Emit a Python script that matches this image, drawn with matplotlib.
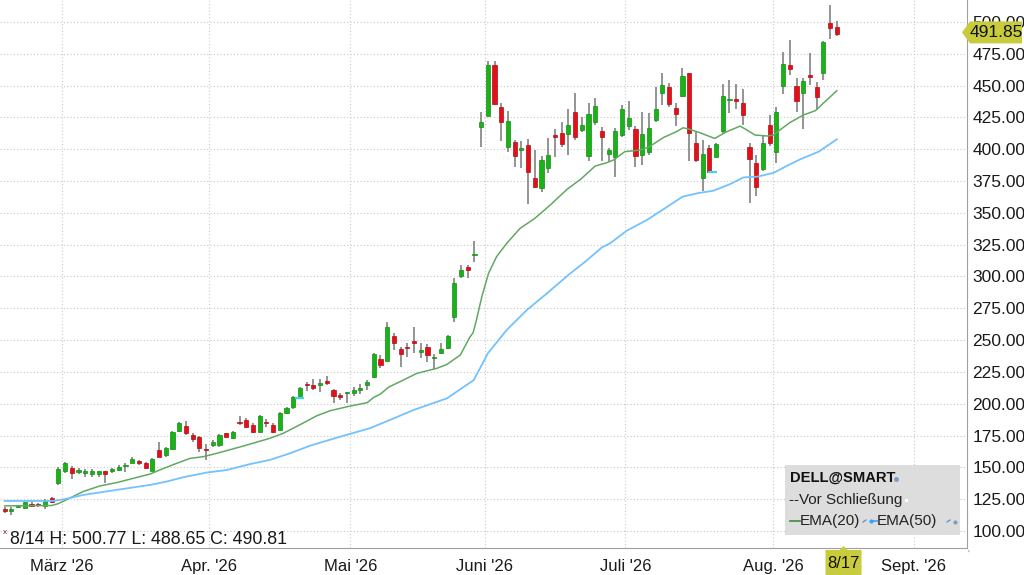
import matplotlib
matplotlib.use("Agg")

import matplotlib.pyplot as plt
from matplotlib.patches import Rectangle, Polygon
from matplotlib.lines import Line2D

# --- candle data (trading-day index 0..124, last = 8/14) ---
opens = [117.1, 115.8, 118.6, 118.4, 121.5, 121.0, 119.7, 125.7, 138.0, 147.2,
         149.8, 146.4, 145.9, 144.8, 144.8, 146.9, 146.9, 148.0, 151.4, 153.7,
         155.0, 153.2, 147.5, 163.7, 159.8, 164.2, 178.6, 182.8, 175.5, 173.7,
         164.7, 167.6, 167.6, 176.8, 172.9, 186.0, 187.3, 183.3, 178.1, 186.0,
         183.4, 179.4, 193.0, 197.2, 206.1, 215.5, 214.7, 214.7, 217.9, 210.5,
         206.5, 208.4, 208.4, 210.5, 214.7, 221.2, 235.1, 233.8, 253.4, 243.0,
         244.8, 249.2, 240.9, 244.8, 235.6, 240.1, 243.5, 267.9, 300.3, 307.2,
         317.0, 417.7, 426.1, 466.2, 433.5, 402.0, 406.0, 399.4, 403.3, 377.7,
         369.3, 385.0, 411.2, 412.5, 412.0, 429.5, 415.1, 394.9, 421.7, 414.6,
         396.0, 393.6, 411.2, 418.3, 416.0, 395.4, 398.1, 422.9, 443.9, 449.1,
         432.1, 441.8, 459.6, 404.6, 377.1, 400.7, 394.1, 414.3, 438.7, 439.2,
         436.0, 401.5, 388.9, 384.6, 418.7, 398.1, 449.7, 466.2, 450.0, 443.9,
         458.4, 448.7, 459.7, 499.5, 495.8]
highs = [118.6, 118.6, 120.5, 123.1, 124.4, 122.3, 125.2, 126.5, 150.6, 154.5,
         151.1, 149.3, 149.0, 148.5, 147.5, 147.5, 149.3, 151.9, 153.2, 157.9,
         155.8, 154.3, 157.4, 170.3, 166.3, 178.6, 185.4, 186.8, 176.8, 174.7,
         168.2, 171.6, 176.3, 177.3, 178.9, 190.4, 188.6, 184.7, 191.2, 187.8,
         184.7, 193.8, 197.8, 206.0, 213.4, 217.3, 219.2, 219.2, 221.8, 211.3,
         208.1, 209.5, 213.4, 215.5, 218.6, 239.6, 238.3, 264.4, 255.3, 244.8,
         247.9, 260.5, 247.4, 246.9, 239.0, 247.4, 254.0, 298.5, 309.0, 309.0,
         327.9, 429.5, 469.4, 469.4, 436.1, 430.1, 407.3, 406.7, 407.8, 399.4,
         394.7, 408.6, 415.9, 421.7, 431.4, 443.9, 425.6, 436.1, 440.0, 417.2,
         401.2, 416.4, 434.8, 438.2, 418.0, 429.5, 428.2, 449.1, 460.1, 451.8,
         436.6, 463.6, 460.1, 413.8, 407.2, 403.3, 405.1, 451.2, 454.4, 451.2,
         447.0, 404.6, 395.4, 411.0, 427.0, 433.1, 476.7, 485.9, 455.7, 455.7,
         475.4, 453.1, 485.3, 513.4, 500.77]
lows = [114.4, 112.6, 118.0, 117.9, 118.6, 119.2, 117.1, 122.3, 136.2, 145.9,
        140.6, 144.8, 142.2, 142.7, 142.2, 138.0, 145.9, 146.9, 146.7, 153.2,
        151.9, 149.0, 146.9, 157.9, 158.5, 163.7, 178.1, 175.5, 170.3, 162.4,
        155.8, 165.8, 166.3, 173.7, 172.1, 183.4, 180.7, 177.3, 177.6, 182.0,
        176.8, 178.6, 192.0, 196.0, 205.0, 210.3, 210.8, 209.5, 214.7, 200.8,
        202.9, 200.8, 206.3, 207.6, 210.7, 219.9, 227.8, 233.8, 242.2, 228.6,
        236.4, 240.1, 235.6, 233.0, 227.0, 239.0, 242.7, 264.4, 298.5, 298.5,
        311.1, 401.5, 426.1, 434.8, 406.7, 398.1, 385.8, 385.0, 357.0, 369.3,
        366.6, 381.6, 393.6, 401.5, 395.5, 407.3, 413.3, 390.8, 419.0, 390.8,
        390.2, 378.4, 409.4, 415.1, 385.8, 387.6, 395.4, 421.6, 434.7, 433.4,
        418.2, 441.3, 391.0, 390.2, 367.4, 381.0, 393.6, 413.0, 428.2, 431.3,
        419.0, 358.0, 363.2, 382.8, 402.6, 389.4, 443.6, 458.4, 429.5, 415.6,
        450.5, 430.8, 454.4, 486.4, 488.65]
closes = [115.8, 117.6, 119.7, 122.6, 119.7, 120.2, 123.9, 123.1, 148.5, 153.7,
          145.9, 148.0, 146.9, 146.9, 146.9, 144.8, 148.5, 150.6, 152.0, 156.9,
          153.2, 149.3, 156.9, 158.5, 165.0, 177.6, 184.7, 176.8, 172.1, 165.0,
          163.7, 170.3, 175.5, 174.2, 178.1, 185.2, 182.0, 178.0, 190.4, 184.9,
          177.6, 193.0, 196.4, 205.0, 212.1, 214.5, 212.4, 216.5, 216.5, 206.1,
          205.5, 209.3, 210.5, 212.6, 217.0, 239.0, 230.4, 260.5, 247.4, 239.0,
          243.5, 247.9, 242.2, 238.3, 235.9, 243.0, 253.2, 295.1, 305.1, 305.1,
          317.6, 421.1, 466.2, 435.3, 421.7, 422.5, 394.7, 401.2, 382.4, 370.1,
          391.5, 395.5, 409.4, 404.1, 419.0, 409.9, 419.0, 427.4, 434.0, 409.9,
          399.4, 414.6, 431.4, 424.8, 394.7, 411.9, 416.9, 431.3, 450.4, 435.5,
          427.4, 457.5, 413.0, 391.5, 396.2, 382.3, 404.1, 441.8, 439.7, 437.6,
          426.9, 392.0, 370.0, 404.8, 405.2, 429.2, 467.2, 462.8, 438.2, 453.6,
          457.0, 441.3, 484.6, 495.0, 490.81]

# EMA lines at (index, value)
ema20_x = [0, 7, 8, 9, 11.7, 14.2, 16.7, 19.2, 21.7, 23.1, 25.3, 27.6, 29.6,
           31.6, 35.6, 39.5, 41.5, 44, 46.5, 48.5, 51.5, 54, 55, 56, 57.2, 58.9,
           61.4, 63.4, 64.4, 65.9, 67.9, 69.3, 69.8, 70.3, 71.1, 72.1, 73.3,
           74.8, 76.8, 79.0, 81.3, 83.8, 85.8, 88.0, 89.7, 90.7, 92.4, 94.7,
           95.9, 98.2, 100.1, 101.1, 102.1, 103.6, 105.8, 107.6, 109.6, 110.6,
           111.8, 113.6, 114.6, 115.5, 117.0, 119.0, 120.8, 122.5, 124]
ema20_y = [119.7, 120.0, 121.5, 124.0, 131.0, 135.4, 138.0, 141.4, 144.8, 147.9,
           152.5, 157.0, 158.4, 161.0, 166.8, 172.8, 176.7, 183.5, 190.5, 194.5,
           198.2, 200.8, 205.0, 207.6, 213.0, 217.3, 223.8, 226.5, 227.8, 230.9,
           238.3, 252.2, 255.8, 265.8, 284.1, 302.5, 315.6, 326.0, 337.8, 345.7,
           356.2, 368.5, 376.3, 386.8, 389.4, 391.5, 398.1, 399.4, 401.5, 409.3,
           413.8, 416.9, 415.6, 413.0, 408.5, 413.8, 418.2, 415.1, 411.2, 410.4,
           411.2, 415.1, 420.9, 426.9, 430.3, 438.7, 446.0]
ema50_x = [0, 7, 8.5, 11.7, 16.7, 21.7, 24.1, 26.6, 30.1, 33.1, 36.6, 39.5,
           42.5, 45.5, 50.0, 54.4, 57.4, 60.9, 65.9, 69.9, 72.0, 74.8, 77.8,
           80.8, 84.0, 86.5, 89.0, 90.2, 92.7, 95.7, 98.5, 101.0, 103.3, 105.6,
           108.1, 110.1, 112.1, 114.6, 116.5, 118.5, 121.3, 124]
ema50_y = [123.6, 123.6, 124.5, 128.3, 132.3, 136.2, 138.8, 142.2, 145.9, 147.9,
           152.6, 155.8, 161.0, 167.0, 174.1, 180.7, 187.2, 195.0, 204.2, 218.6,
           239.6, 257.9, 273.6, 286.7, 301.2, 311.6, 322.9, 326.0, 336.0, 344.4,
           354.0, 362.7, 365.5, 367.4, 372.6, 377.9, 378.4, 381.5, 386.8, 392.0,
           398.1, 407.8]

# small cyan marks on the chart
mark_x0 = [43.3, 104.8]
mark_x1 = [44.6, 106.2]
mark_y = [204.3, 381.9]

month_first = [9, 31, 52, 72, 93, 115, 136]
month_labels = ["März '26", "Apr. '26", "Mai '26", "Juni '26", "Juli '26",
                "Aug. '26", "Sept. '26"]
y_ticks = list(range(100, 501, 25))

last_price = 491.85
last_date_idx = 125
last_date_label = "8/17"
info_text = "8/14 H: 500.77 L: 488.65 C: 490.81"

W, H = 1024, 575
FONT = "Liberation Sans"
UP = "#19b219"
UP_EDGE = "#0f8f0f"
DOWN = "#e3101a"
DOWN_EDGE = "#b30a10"
TAG = "#c8cb3c"


def px(x, y):
    return x / W, 1 - y / H


fig = plt.figure(figsize=(W / 100, H / 100), dpi=100)
ax = fig.add_axes([0, 27 / H, 967 / W, 548 / H])
ax.set_xlim(-0.7, 143.4)
ax.set_ylim(86.6, 517.3)

# grid
for t in y_ticks:
    ax.axhline(t, color="#c8c8c8", linewidth=0.8, linestyle=(0, (1, 2)), zorder=0)
for m in month_first:
    ax.axvline(m - 0.5, color="#c8c8c8", linewidth=0.8, linestyle=(0, (1, 2)), zorder=0)

# candles
bw = 0.62
for i in range(len(opens)):
    o, h, l, c = opens[i], highs[i], lows[i], closes[i]
    up = c >= o
    ax.vlines(i, l, h, color="#777777", linewidth=1.1, zorder=2)
    lo, hi = min(o, c), max(o, c)
    if hi - lo < 0.8:
        hi = lo + 0.8
    ax.add_patch(Rectangle((i - bw / 2, lo), bw, hi - lo,
                           facecolor=UP if up else DOWN,
                           edgecolor=UP_EDGE if up else DOWN_EDGE,
                           linewidth=0.5, zorder=3))

ax.plot(ema20_x, ema20_y, color="#62a862", linewidth=1.1, zorder=4)
ax.plot(ema50_x, ema50_y, color="#72c2ff", linewidth=1.3, zorder=4)
ax.hlines(mark_y, mark_x0, mark_x1, color="#3cd6e6", linewidth=1.6, zorder=5)

# axes style
for s in ["top", "left"]:
    ax.spines[s].set_visible(False)
ax.spines["right"].set_color("#a0a0a0")
ax.spines["bottom"].set_color("#a0a0a0")
ax.yaxis.tick_right()
ax.set_yticks(y_ticks)
ax.set_yticklabels([f"{t:.2f}" for t in y_ticks])
ax.set_xticks([m - 0.5 for m in month_first])
ax.set_xticklabels(month_labels)
ax.tick_params(axis="y", length=0, pad=4, labelsize=12.5, labelcolor="#1a1a1a")
ax.tick_params(axis="x", length=0, pad=8, labelsize=12, labelcolor="#1a1a1a")
for lab in ax.get_xticklabels() + ax.get_yticklabels():
    lab.set_fontfamily(FONT)

# info line bottom-left
fig.text(*px(3, 533), "x", fontsize=6, color="#8b1a1a", family=FONT, va="center")
fig.text(*px(10, 539), info_text, fontsize=12.8, color="#1a1a1a", family=FONT,
         va="center", ha="left")
fig.text(*px(968, 555), "'", fontsize=7, color="#888888", family=FONT, va="center")

# legend box
fig.patches.append(Rectangle(px(785, 535), 175 / W, 70 / H, transform=fig.transFigure,
                             facecolor="#dcdcdc", edgecolor="none", alpha=0.95))
fig.text(*px(790, 478), "DELL@SMART", fontsize=10.6, fontweight="bold", family=FONT,
         va="center", color="#111111")
fig.lines.append(Line2D([px(896, 0)[0]], [px(0, 479)[1]], marker="o", markersize=2.5,
                        color="#7a9cc6", transform=fig.transFigure))
fig.text(*px(789, 500), "--Vor Schließung", fontsize=11, family=FONT, va="center",
         color="#222222")
fig.patches.append(Rectangle(px(905, 502), 3 / W, 3 / H, transform=fig.transFigure,
                             facecolor="white", edgecolor="none"))
fig.lines.append(Line2D([px(790, 0)[0], px(800, 0)[0]], [px(0, 521)[1]] * 2,
                        color="#3d8a3d", linewidth=1.2, transform=fig.transFigure))
fig.text(*px(800, 521), "EMA(20)", fontsize=11, family=FONT, va="center", color="#222222")
fig.lines.append(Line2D([px(863, 0)[0], px(866, 0)[0]], [px(0, 522)[1], px(0, 520)[1]],
                        color="#5a8fd0", linewidth=0.9, transform=fig.transFigure))
fig.lines.append(Line2D([px(871, 0)[0], px(877, 0)[0]], [px(0, 521)[1]] * 2,
                        color="#3aa0ff", linewidth=1.2, marker="o", markersize=2,
                        markevery=[0], transform=fig.transFigure))
fig.text(*px(877, 521), "EMA(50)", fontsize=11, family=FONT, va="center", color="#222222")
fig.lines.append(Line2D([px(947, 0)[0], px(950, 0)[0]], [px(0, 522)[1], px(0, 520)[1]],
                        color="#5a8fd0", linewidth=0.9, transform=fig.transFigure))
fig.lines.append(Line2D([px(955, 0)[0]], [px(0, 522)[1]], marker="o", markersize=2,
                        color="#7a9cc6", transform=fig.transFigure))

# last price tag on the right
y_tag = ax.transData.transform((0, last_price))[1]
yt = H - y_tag
tag = Polygon([px(962, yt), px(970, yt - 11), px(1022, yt - 11), px(1022, yt + 11),
               px(970, yt + 11)], closed=True, transform=fig.transFigure,
              facecolor=TAG, edgecolor="none", zorder=5)
fig.patches.append(tag)
fig.text(*px(996, yt), f"{last_price:.2f}", fontsize=12.5, family=FONT, ha="center",
         va="center", color="#111111", zorder=6)

# date tag at the bottom
x_tag = ax.transData.transform((last_date_idx, 0))[0]
dtag = Polygon([px(x_tag - 4, 550), px(x_tag, 546), px(x_tag + 4, 550), px(x_tag + 18, 550),
                px(x_tag + 18, 575), px(x_tag - 18, 575), px(x_tag - 18, 550)],
               closed=True, transform=fig.transFigure, facecolor=TAG, edgecolor="none")
fig.patches.append(dtag)
fig.text(*px(x_tag, 564), last_date_label, fontsize=12, family=FONT, ha="center",
         va="center", color="#111111")

fig.savefig("out.png", dpi=100)
plt.close(fig)
